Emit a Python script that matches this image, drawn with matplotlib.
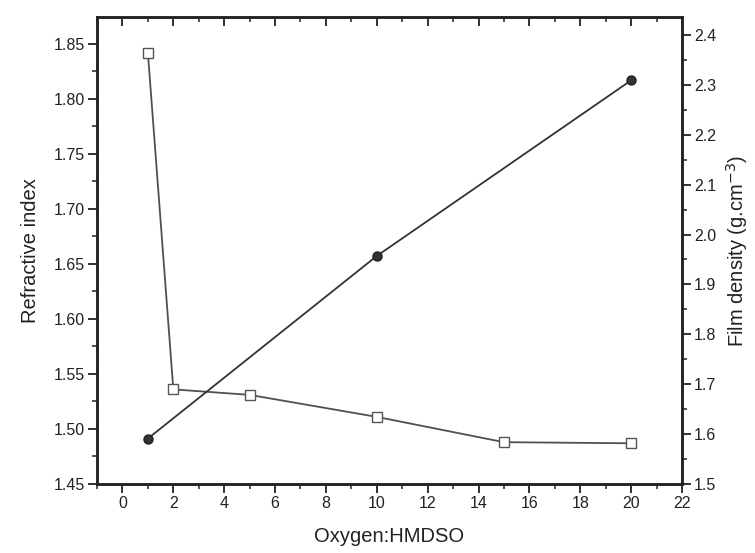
import matplotlib
matplotlib.use("Agg")
import matplotlib.pyplot as plt
from matplotlib.ticker import MultipleLocator, FormatStrFormatter

plt.rcParams['font.family'] = ['Liberation Sans', 'DejaVu Sans']

# refractive index (open squares, left axis)
ratio_ri = [1, 2, 5, 10, 15, 20]
ri = [1.842, 1.536, 1.531, 1.511, 1.488, 1.487]
# film density (filled circles, right axis)
ratio_rho = [1, 10, 20]
rho = [1.591, 1.957, 2.309]

fig = plt.figure(figsize=(7.55, 5.53), dpi=100)
ax = fig.add_axes([0.1285, 0.1248, 0.7748, 0.8445])
ax2 = ax.twinx()

ax.plot(ratio_ri, ri, color='#505050', lw=1.3, marker='s', ms=6.5,
        mfc='white', mec='#555555', mew=1.0, zorder=3)
ax2.plot(ratio_rho, rho, color='#333333', lw=1.3, marker='o', ms=6.5,
         mfc='#333333', mec='#222222', zorder=3)

ax.set_xlim(-1, 22)
ax.set_ylim(1.45, 1.8745)
ax2.set_ylim(1.5, 2.436)

ax.xaxis.set_major_locator(MultipleLocator(2))
ax.xaxis.set_minor_locator(MultipleLocator(1))
ax.yaxis.set_major_locator(MultipleLocator(0.05))
ax.yaxis.set_minor_locator(MultipleLocator(0.025))
ax.yaxis.set_major_formatter(FormatStrFormatter('%.2f'))
ax2.yaxis.set_major_locator(MultipleLocator(0.1))
ax2.yaxis.set_minor_locator(MultipleLocator(0.05))
ax2.yaxis.set_major_formatter(FormatStrFormatter('%.1f'))

ax.tick_params(axis='both', which='major', direction='out', length=6.5, width=1.3,
               labelsize=11.5, colors='#222222', pad=2)
ax.tick_params(axis='both', which='minor', direction='out', length=3.6, width=1.1,
               colors='#222222')
ax.tick_params(axis='x', which='both', top=True)
ax2.tick_params(axis='y', which='major', direction='out', length=6.5, width=1.3,
                labelsize=11.5, colors='#222222', pad=2)
ax2.tick_params(axis='y', which='minor', direction='out', length=3.6, width=1.1,
                colors='#222222')

# top ticks point inward
for t in ax.xaxis.get_major_ticks() + ax.xaxis.get_minor_ticks():
    t.tick2line.set_marker(3)

for a in (ax, ax2):
    for s in a.spines.values():
        s.set_linewidth(1.8)
        s.set_color('#222222')

ax.set_xlabel('Oxygen:HMDSO', fontsize=14.5, color='#222222', labelpad=12)
ax.set_ylabel('Refractive index', fontsize=14.5, color='#222222', labelpad=10)
ax2.set_ylabel('Film density (g.cm$^{-3}$)', fontsize=14.5, color='#222222', labelpad=6)

fig.savefig('out.png', dpi=100)
